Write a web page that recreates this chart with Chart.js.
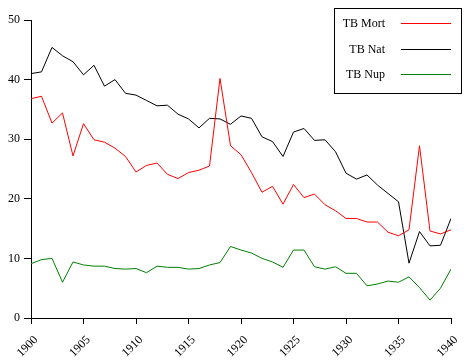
<!DOCTYPE html>
<html>
<head>
<meta charset="utf-8">
<script src="https://cdn.jsdelivr.net/npm/chart.js@4/dist/chart.umd.min.js"></script>
<style>
html,body{margin:0;padding:0;background:#fff;}
#wrap{width:473px;height:364px;position:relative;}
</style>
</head>
<body>
<div id="wrap"><canvas id="c" width="473" height="364"></canvas></div>
<script>
const years = [1900,1901,1902,1903,1904,1905,1906,1907,1908,1909,
               1910,1911,1912,1913,1914,1915,1916,1917,1918,1919,
               1920,1921,1922,1923,1924,1925,1926,1927,1928,1929,
               1930,1931,1932,1933,1934,1935,1936,1937,1938,1939,1940];
const tbMort = [36.8,37.2,32.7,34.4,27.2,32.6,29.9,29.5,28.5,27.1,
                24.5,25.6,26.0,24.1,23.4,24.4,24.8,25.5,40.2,28.9,
                27.4,24.4,21.1,22.1,19.1,22.4,20.2,20.8,19.0,18.0,
                16.7,16.7,16.1,16.1,14.4,13.8,14.8,28.9,14.6,14.1,14.8];
const tbNat = [41.0,41.3,45.4,44.0,43.0,40.8,42.4,38.9,40.0,37.7,
               37.4,36.5,35.6,35.7,34.2,33.4,31.9,33.5,33.4,32.5,
               33.9,33.5,30.4,29.6,27.1,31.2,31.8,29.8,29.9,27.9,
               24.3,23.3,24.0,22.3,20.9,19.5,9.2,14.5,12.1,12.2,16.7];
const tbNup = [9.1,9.8,10.0,6.0,9.4,8.9,8.7,8.7,8.3,8.2,
               8.3,7.6,8.7,8.5,8.5,8.2,8.3,8.9,9.3,12.0,
               11.4,10.9,10.0,9.4,8.5,11.4,11.4,8.6,8.2,8.6,
               7.5,7.5,5.4,5.7,6.2,6.0,6.9,5.1,3.0,5.0,8.2];
const seriesLabels = ["TB Mort","TB Nat","TB Nup"];
const yTicks = [0,10,20,30,40,50];
const xTicks = [1900,1905,1910,1915,1920,1925,1930,1935,1940];

const pts = arr => arr.map((v,i)=>({x:years[i], y:v}));
const FONT = "'Liberation Serif','Times New Roman',serif";

const legendBox = {
  id:'legendBox',
  afterDraw(chart){
    const ctx = chart.ctx;
    ctx.save();
    ctx.strokeStyle = '#000';
    ctx.lineWidth = 1;
    ctx.strokeRect(334.5, 8.5, 127, 85);
    ctx.font = "12px " + FONT;
    ctx.textAlign = 'right';
    ctx.textBaseline = 'middle';
    chart.data.datasets.forEach((ds,i)=>{
      const y = 24 + i*25.5;
      ctx.fillStyle = '#000';
      ctx.fillText(ds.label, 385, y);
      ctx.strokeStyle = ds.borderColor;
      ctx.beginPath();
      ctx.moveTo(401, Math.round(y)-0.5);
      ctx.lineTo(451, Math.round(y)-0.5);
      ctx.stroke();
    });
    ctx.restore();
  }
};

new Chart(document.getElementById('c'), {
  type:'line',
  data:{
    datasets:[
      {label:seriesLabels[0], data:pts(tbMort), borderColor:'#ff0000', borderWidth:1, pointRadius:0, tension:0, fill:false},
      {label:seriesLabels[1], data:pts(tbNat), borderColor:'#000000', borderWidth:1, pointRadius:0, tension:0, fill:false},
      {label:seriesLabels[2], data:pts(tbNup), borderColor:'#008000', borderWidth:1, pointRadius:0, tension:0, fill:false}
    ]
  },
  options:{
    responsive:false,
    animation:false,
    layout:{padding:{top:20,right:22,left:0,bottom:0}},
    plugins:{legend:{display:false}, tooltip:{enabled:false}},
    scales:{
      x:{
        type:'linear', min:1900, max:1940,
        afterBuildTicks(s){ s.ticks = xTicks.map(v=>({value:v})); },
        afterFit(s){ s.height = 46; },
        border:{display:true,color:'#000',width:1},
        grid:{display:true,drawOnChartArea:false,drawTicks:true,tickLength:6,color:'#000'},
        ticks:{color:'#000',font:{family:FONT,size:12},minRotation:45,maxRotation:45,padding:9,labelOffset:5,
               callback:v=>String(v)}
      },
      y:{
        type:'linear', min:0, max:50,
        afterBuildTicks(s){ s.ticks = yTicks.map(v=>({value:v})); },
        afterFit(s){ s.width = 31; },
        border:{display:true,color:'#000',width:1},
        grid:{display:true,drawOnChartArea:false,drawTicks:true,tickLength:7,color:'#000'},
        ticks:{color:'#000',font:{family:FONT,size:12},padding:4,callback:v=>String(v)}
      }
    }
  },
  plugins:[legendBox]
});
</script>
</body>
</html>
